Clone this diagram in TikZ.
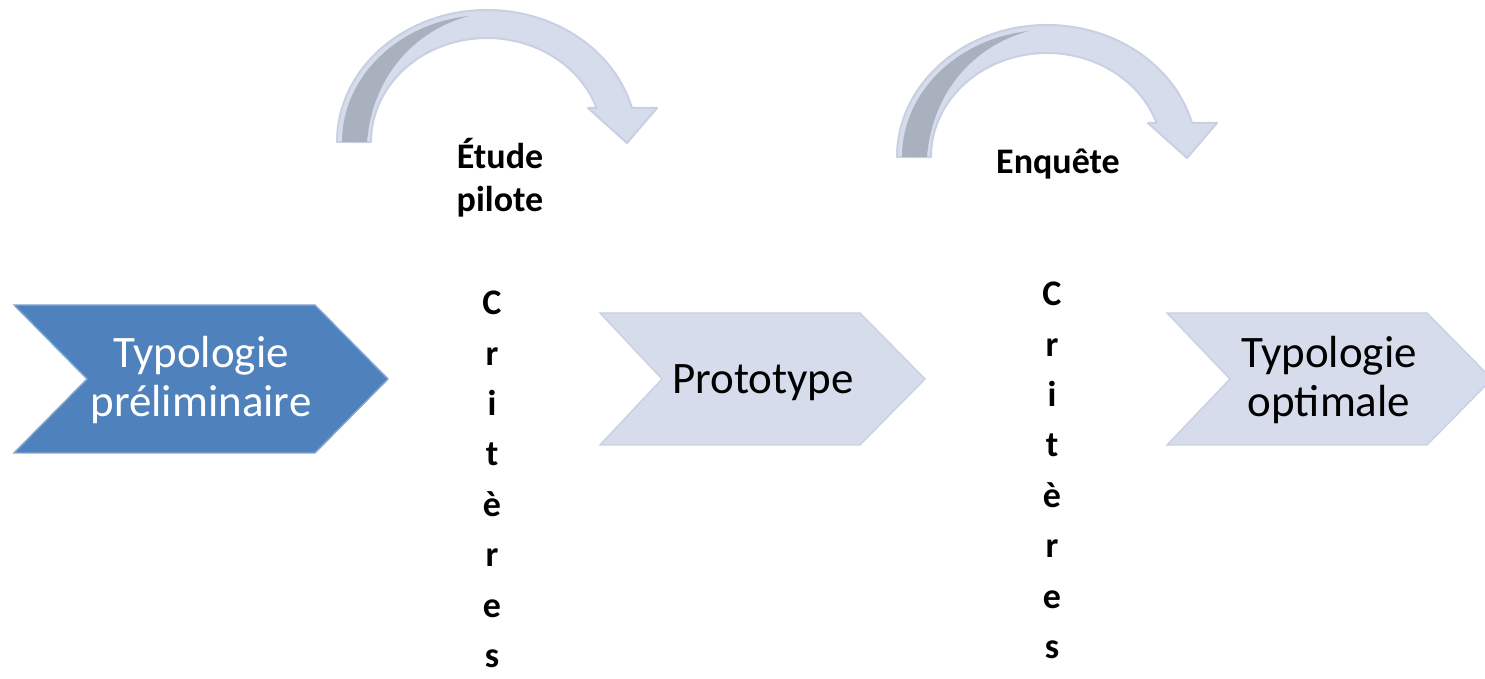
\documentclass[tikz,border=0pt]{standalone}
\usepackage{fontspec}
\setmainfont{Carlito}
\usetikzlibrary{positioning}
\definecolor{chevblue}{RGB}{79,129,189}
\definecolor{chevpale}{RGB}{214,220,235}
\definecolor{paleedge}{RGB}{200,208,226}
\definecolor{backgray}{RGB}{170,177,190}

\begin{document}
\begin{tikzpicture}[x=0.5pt, y=0.5pt,
  chevdark/.style={fill=chevblue, draw=chevblue!70!white, line width=0.7pt},
  chevlight/.style={fill=chevpale, draw=paleedge, line width=0.7pt},
  bandfront/.style={fill=chevpale, draw=paleedge, line width=1pt, line join=round},
  steptext/.style={font=\fontsize{22.5}{24.5}\selectfont, align=center},
  arclabel/.style={font=\fontsize{18}{21.5}\selectfont\bfseries, align=center},
  critlabel/.style={font=\fontsize{18}{25.2}\selectfont\bfseries, align=center, inner sep=0pt}
]
  \useasboundingbox (0,0) rectangle (1485,679);

  % Curved arrows above the steps
  \foreach \dx/\dy in {0/0, 560/-15} {
    \begin{scope}[shift={(\dx,\dy)}]
      \draw[bandfront] (337,537) arc[start angle=180, end angle=15, x radius=150, y radius=132]
        -- (657,571) -- (627,536) -- (588,571) -- (596.6,571)
        arc[start angle=19.1, end angle=180, x radius=116, y radius=104] -- cycle;
      \fill[backgray] (342,537) arc[start angle=180, end angle=97, x radius=145, y radius=127]
        .. controls (412,648) and (372,600) .. (367,537) -- cycle;
    \end{scope}
  }

  % Steps
  \draw[chevdark] (14,374) -- (315,374) -- (388,300) -- (315,226) -- (14,226) -- (87,300) -- cycle;
  \draw[chevlight] (600,366) -- (860,366) -- (925,300) -- (860,234) -- (600,234) -- (662,300) -- cycle;
  \draw[chevlight] (1167,366) -- (1427,366) -- (1492,300) -- (1427,234) -- (1167,234) -- (1230,300) -- cycle;

  \node[steptext, text=white] (prelim) at (201,299) {Typologie\\préliminaire};
  \node[steptext] (proto) at (763,296) {Prototype};
  \node[steptext] (optim) at (1329,299) {Typologie\\optimale};

  % Labels
  \node[arclabel] (etude) at (500,501.5) {Étude\\pilote};
  \node[arclabel] (enquete) at (1058,514.5) {Enquête};
  \node[critlabel] (crit1) at (492,199.5) {C\\r\\i\\t\\è\\r\\e\\s};
  \node[critlabel] (crit2) at (1052,208.5) {C\\r\\i\\t\\è\\r\\e\\s};
\end{tikzpicture}
\end{document}
